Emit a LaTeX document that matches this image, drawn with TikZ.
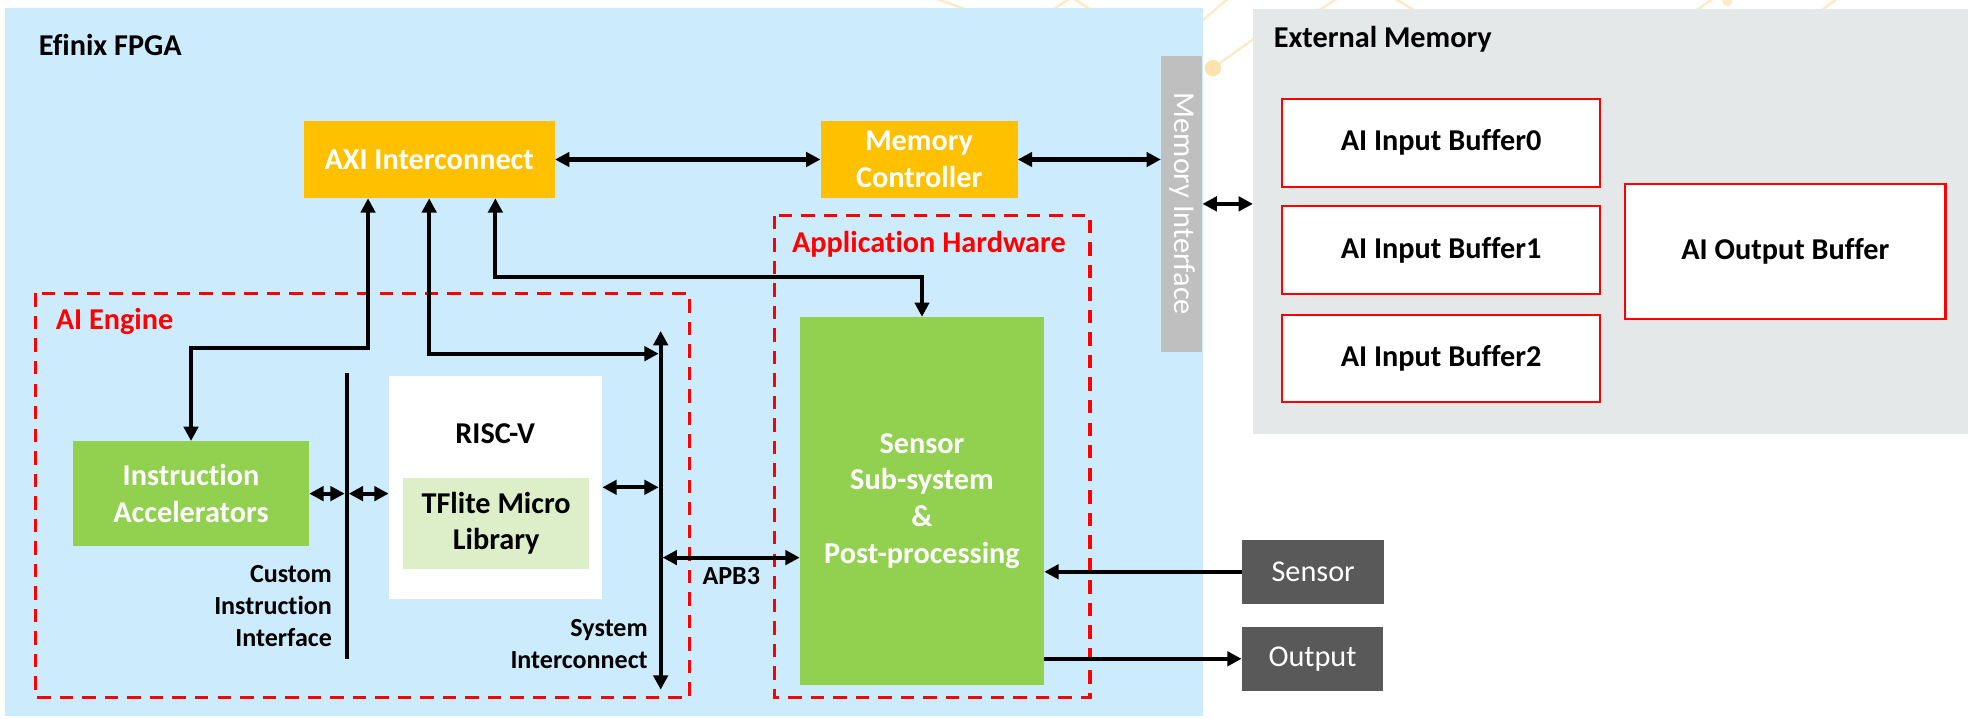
\documentclass[tikz,border=0pt]{standalone}
\usepackage{fontspec}
\setmainfont{Carlito}[Ligatures=NoCommon]
\usetikzlibrary{arrows.meta,calc}

\definecolor{fpgablue}{RGB}{204,235,252}
\definecolor{extgrey}{RGB}{228,232,233}
\definecolor{ifgrey}{RGB}{191,191,191}
\definecolor{axiorange}{RGB}{255,192,0}
\definecolor{blockgreen}{RGB}{146,208,80}
\definecolor{libgreen}{RGB}{221,239,200}
\definecolor{iodark}{RGB}{89,89,89}
\definecolor{tracegold}{RGB}{252,234,200}
\definecolor{tracedot}{RGB}{252,226,172}
\definecolor{alertred}{RGB}{255,0,0}

\begin{document}
\begin{tikzpicture}[x=0.75pt,y=-0.75pt,
  bigtext/.style={font=\fontsize{18}{21.75}\selectfont\bfseries},
  plaintext/.style={font=\fontsize{18}{21.75}\selectfont},
  smalltext/.style={font=\fontsize{15.5}{19}\selectfont\bfseries},
  block/.style={draw=none,inner sep=0pt,align=center,bigtext},
  bufferbox/.style={block,fill=white,draw=alertred,line width=1.2pt,minimum width=189pt},
  regionframe/.style={draw=alertred,line width=1.8pt,dash pattern=on 8pt off 5.4pt},
  conn/.style={line width=2.4pt,draw=black},
  dbl/.style={conn,{Triangle[length=8.5pt,width=8.5pt]}-{Triangle[length=8.5pt,width=8.5pt]}},
  one/.style={conn,-{Triangle[length=8.5pt,width=8.5pt]}},
  trace/.style={draw=tracegold,line width=1.4pt}
]
\useasboundingbox (0,0) rectangle (1568,569.5);
\fill[white] (0,0) rectangle (1568,569.5);

% faint circuit traces behind the panels
\draw[trace] (740,-2) -- (778,12);
\draw[trace] (828,12) -- (850,-2) -- (872,12);
\draw[trace] (954,16) -- (975,-2);
\draw[trace] (962,54) -- (994,31);
\fill[tracedot] (962,54) circle (6.5);
\draw[trace] (1040,12) -- (1062,-2);
\draw[trace] (1105,-2) -- (1128,12);
\draw[trace] (1340,12) -- (1360,-2);
\draw[trace] (1440,12) -- (1458,-2);
\fill[tracegold] (1370,1) circle (4);

% panels
\fill[fpgablue] (4.3,6.3) rectangle (954,568);
\node[draw=none,fill=extgrey,inner sep=0pt,minimum width=425.25pt,minimum height=252.45pt] (ext) at (1277.5,175.7) {};
\node[draw=none,fill=ifgrey,inner sep=0pt,minimum width=24.4pt,minimum height=176pt] (memif) at (937.2,161.7) {};
\node[rotate=-90,text=white,plaintext,inner sep=0pt] (memiflbl) at (938,161.7) {Memory Interface};

% panel titles
\node[bigtext,anchor=west,inner sep=0pt] (fpgalbl) at (30.5,35.7) {Efinix FPGA};
\node[bigtext,anchor=west,inner sep=0pt] (extlbl) at (1010,31) {External Memory};

% external memory buffers
\node[bufferbox,minimum height=52.1pt] (buf0) at (1143,113.25) {AI Input Buffer0};
\node[bufferbox,minimum height=52.1pt] (buf1) at (1143,198.25) {AI Input Buffer1};
\node[bufferbox,minimum height=51.75pt] (buf2) at (1143,284.5) {AI Input Buffer2};
\node[bufferbox,minimum width=190.5pt,minimum height=80.25pt] (obuf) at (1416,199.5) {AI Output Buffer};

% grouping frames
\draw[regionframe] (28.3,232.7) rectangle (546.5,553);
\draw[regionframe] (614,171) rectangle (864.5,553);
\node[bigtext,text=alertred,anchor=west,inner sep=0pt] (engine) at (44,255) {AI Engine};
\node[bigtext,text=alertred,anchor=west,inner sep=0pt] (apphw) at (628,194) {Application Hardware};

% FPGA blocks
\node[block,fill=axiorange,text=white,minimum width=149.4pt,minimum height=45.75pt] (axi) at (340.4,126.5) {AXI Interconnect};
\node[block,fill=axiorange,text=white,minimum width=117pt,minimum height=45.75pt] (mc) at (729,126.5) {Memory\\Controller};
\node[block,fill=blockgreen,text=white,minimum width=140.25pt,minimum height=62.25pt] (ia) at (151.5,391.5) {Instruction\\Accelerators};
\node[block,fill=white,minimum width=126.75pt,minimum height=132.75pt] (riscv) at (393,386.5) {};
\node[bigtext,inner sep=0pt] (riscvlbl) at (392.7,343.6) {RISC-V};
\node[block,fill=libgreen,minimum width=110.25pt,minimum height=54pt] (tfl) at (393.5,415) {TFlite Micro\\Library};
\node[block,fill=blockgreen,text=white,minimum width=145.1pt,minimum height=218.6pt] (pp) at (731.25,397.25) {Sensor\\Sub-system\\\&\\Post-processing};
\node[block,fill=iodark,text=white,plaintext,minimum width=84.75pt,minimum height=38.25pt] (sensor) at (1041.5,453.5) {Sensor};
\node[block,fill=iodark,text=white,plaintext,minimum width=84pt,minimum height=38.25pt] (output) at (1041,522.5) {Output};

% bus lines
\coordinate (ciT) at (275,295.5);
\coordinate (ciB) at (275,523);
\coordinate (sysT) at (524,262.5);
\coordinate (sysB) at (524,547);
\draw[conn] (ciT) -- (ciB);
\draw[dbl] (sysT) -- (sysB);

\node[smalltext,align=right,anchor=east,inner sep=0pt] (cilbl) at (263.5,480.6) {Custom\\Instruction\\Interface};
\node[smalltext,align=right,anchor=east,inner sep=0pt] (syslbl) at (514,511) {System\\Interconnect};
\node[smalltext,inner sep=0pt] (apblbl) at (580,457) {APB3};

% connectors
\draw[dbl] (axi.east) -- (mc.west);
\draw[dbl] (mc.east) -- (mc.east -| memif.west);
\draw[dbl] (memif.east) -- (memif.east -| ext.west);
\draw[dbl] (ia.north) -- ++(0,-74) -| ($(axi.south)+(-48.5,0)$);
\draw[dbl] (axi.south) |- ($(sysT)+(-1.6,18)$);
\draw[dbl] ($(axi.south)+(52.5,0)$) -- ++(0,62.5) -| (pp.north);
\draw[dbl] (ia.east) -- ($(ia.east -| ciT)+(-1.6,0)$);
\draw[dbl] ($(ia.east -| ciT)+(1.6,0)$) -- (ia.east -| riscv.west);
\draw[dbl] (riscv.east) -- ($(riscv.east -| sysT)+(-1.6,0)$);
\draw[dbl] ($(sysT |- pp.west)+(1.6,45)$) -- ($(pp.west)+(0,45)$);
\draw[one] (sensor.west) -- (sensor.west -| pp.east);
\draw[one] (pp.east |- output.west) -- (output.west);
\end{tikzpicture}
\end{document}
